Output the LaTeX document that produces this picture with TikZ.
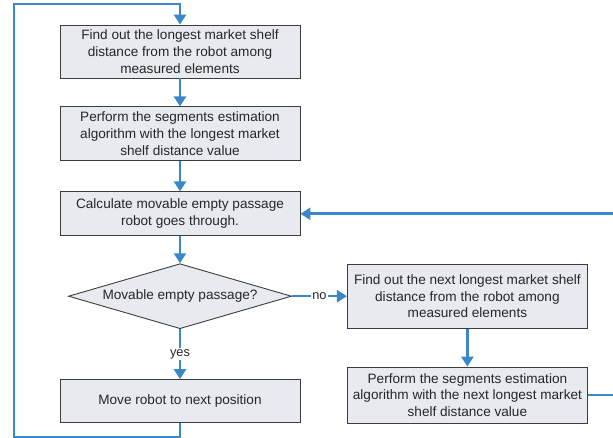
\documentclass[tikz,border=0pt]{standalone}
\usepackage{fontspec}
\setmainfont{Liberation Sans}
\usepackage{xcolor}
\usetikzlibrary{arrows.meta,positioning,shapes.geometric}
\definecolor{flowblue}{HTML}{3A88C9}
\definecolor{boxfill}{HTML}{E7EBEF}
\definecolor{boxline}{HTML}{3C3C3C}

\begin{document}
\begin{tikzpicture}[x=1pt, y=1pt, node distance=28pt and 55pt,
  font=\fontsize{13.6}{16.8}\selectfont, text=black!85,
  box/.style={draw=boxline, line width=0.9pt, fill=boxfill, align=center, minimum width=240pt, inner sep=1pt},
  decide/.style={diamond, draw=boxline, line width=0.9pt, fill=boxfill, inner sep=0pt, minimum width=223pt, minimum height=65pt, aspect=3.4},
  arr/.style={-{Triangle[length=10pt,width=12pt]}, line width=2.6pt, draw=flowblue}]
  \clip (0,0) rectangle (613,-438);
  \node[box, minimum height=53pt] (find) at (180,-51.5) {Find out the longest market shelf\\distance from the robot among\\measured elements};
  \node[box, minimum height=54pt, below=28pt of find] (perf) {Perform the segments estimation\\algorithm with the longest market\\shelf distance value};
  \node[box, minimum height=44pt, below=30pt of perf] (calc) {Calculate movable empty passage\\robot goes through.};
  \node[decide, below=27pt of calc] (dec) {Movable empty passage?};
  \node[box, minimum height=43pt, below=50pt of dec] (move) {Move robot to next position};
  \node[box, minimum height=64pt, right=55pt of dec] (nfind) {Find out the next longest market shelf\\distance from the robot among\\measured elements};
  \node[box, minimum height=56pt, below=38pt of nfind] (nperf) {Perform the segments estimation\\algorithm with the next longest market\\shelf distance value};
  \coordinate (lb) at (14,-437);
  \coordinate (lt) at (14,-4);
  \coordinate (rx) at (618,0);
  \draw[arr] (find) -- (perf); \draw[arr] (perf) -- (calc); \draw[arr] (calc) -- (dec);
  \draw[arr] (dec) -- node[fill=white, inner sep=1pt, font=\fontsize{12.8}{15}\selectfont] {yes} (move);
  \draw[arr] (dec) -- node[fill=white, inner sep=1pt, font=\fontsize{12.8}{15}\selectfont] {no} (nfind);
  \draw[arr] (nfind) -- (nperf);
  % loop back to the top
  \draw[arr] (move.south) -- (move.south |- lb) -- (lb) -- (lt) -- (lt -| find.north) -- (find.north);
  % retry path back into the passage check (runs off the right edge)
  \draw[arr] (nperf.east) -- (nperf.east -| rx) -- (rx |- calc.east) -- (calc.east);
\end{tikzpicture}
\end{document}
